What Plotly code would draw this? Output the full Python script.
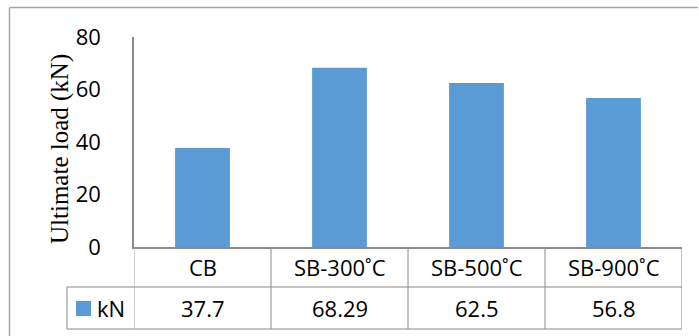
import plotly.graph_objects as go

# Specimen groups and their measured ultimate loads
categories = ["CB", "SB-300˚C", "SB-500˚C", "SB-900˚C"]
loads_kn = [37.7, 68.29, 62.5, 56.8]
series_name = "kN"
value_labels = ["37.7", "68.29", "62.5", "56.8"]
y_ticks = [0, 20, 40, 60, 80]

BAR_COLOR = "#5B9BD5"
GRID = "#8A8A8A"
FRAME = "#A6A6A6"
SANS = "Open Sans"
TABLE_SIZE = 22

W, H = 699, 336
ML, MR, MT, MB = 134, 17, 37, 89
PW, PH = W - ML - MR, H - MT - MB


def px(x):
    """Pixel column -> paper x."""
    return (x - ML) / PW


def py(y):
    """Pixel row -> paper y."""
    return (H - MB - y) / PH


fig = go.Figure(
    go.Bar(
        x=list(range(len(categories))),
        y=loads_kn,
        name=series_name,
        marker=dict(color=BAR_COLOR, line=dict(width=0)),
        showlegend=False,
    )
)

n = len(categories)
row1_bottom = py(287)
row2_bottom = py(329)
legend_left = px(67)

shapes = []
# horizontal rules of the data table
for yb in (row1_bottom, row2_bottom):
    shapes.append(dict(type="line", xref="paper", yref="paper",
                       x0=legend_left, x1=1, y0=yb, y1=yb,
                       line=dict(color=GRID, width=1)))
# vertical separators between categories
for i in range(n + 1):
    xb = i - 0.5
    shapes.append(dict(type="line", xref="x", yref="paper",
                       x0=xb, x1=xb, y0=0, y1=row2_bottom,
                       line=dict(color=GRID if i else "#A8A8A8", width=1)))
# left edge of the legend-key cell
shapes.append(dict(type="line", xref="paper", yref="paper",
                   x0=legend_left, x1=legend_left, y0=row1_bottom, y1=row2_bottom,
                   line=dict(color=GRID, width=1)))
# legend key swatch
shapes.append(dict(type="rect", xref="paper", yref="paper",
                   x0=px(76), x1=px(91), y0=py(316), y1=py(301),
                   fillcolor=BAR_COLOR, line=dict(width=0)))
# outer chart frame (top and left edges)
shapes.append(dict(type="line", xref="paper", yref="paper",
                   x0=px(9.5), x1=px(698), y0=py(7.5), y1=py(7.5),
                   line=dict(color=FRAME, width=1.5)))
shapes.append(dict(type="line", xref="paper", yref="paper",
                   x0=px(9.5), x1=px(9.5), y0=py(7.5), y1=py(340),
                   line=dict(color=FRAME, width=1.5)))

annotations = []
row1_mid = py(267)
row2_mid = py(308)
cell_font = dict(family=SANS, size=TABLE_SIZE, color="#000000")
for i, (cat, lab) in enumerate(zip(categories, value_labels)):
    annotations.append(dict(x=i, y=row1_mid, xref="x", yref="paper",
                            text=cat, showarrow=False, font=cell_font,
                            xanchor="center", yanchor="middle"))
    annotations.append(dict(x=i, y=row2_mid, xref="x", yref="paper",
                            text=lab, showarrow=False, font=cell_font,
                            xanchor="center", yanchor="middle"))
annotations.append(dict(x=px(95), y=row2_mid, xref="paper", yref="paper",
                        text=series_name, showarrow=False, font=cell_font,
                        xanchor="left", yanchor="middle"))
# y axis title
annotations.append(dict(x=px(60), y=py(149), xref="paper", yref="paper",
                        text="Ultimate load (kN)", showarrow=False, textangle=-90,
                        font=dict(family="Liberation Serif", size=25, color="#000000"),
                        xanchor="center", yanchor="middle"))

fig.update_layout(
    width=W, height=H,
    margin=dict(l=ML, r=MR, t=MT, b=MB),
    paper_bgcolor="white", plot_bgcolor="white",
    bargap=0.6,
    shapes=shapes,
    annotations=annotations,
    xaxis=dict(range=[-0.5, n - 0.5], showticklabels=False, ticks="",
               showgrid=False, zeroline=False, showline=True,
               linecolor=GRID, linewidth=1.5, fixedrange=True),
    yaxis=dict(range=[0, 80], tickvals=y_ticks, ticks="", showgrid=False,
               zeroline=False, showline=True, linecolor=GRID, linewidth=1.5,
               ticklabelstandoff=27,
               tickfont=dict(family=SANS, size=22, color="#000000"),
               fixedrange=True),
)

fig.write_html("out.html")
